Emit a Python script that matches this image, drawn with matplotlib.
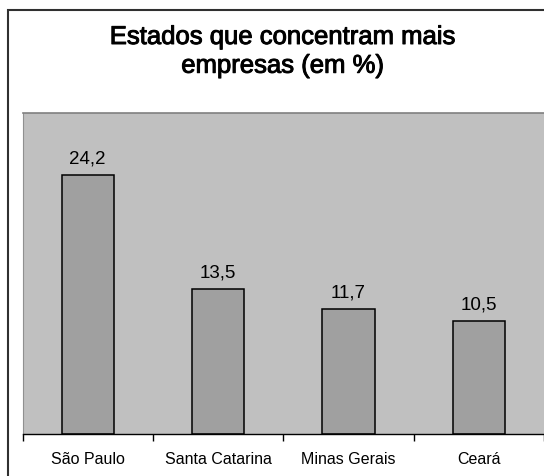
import numpy as np
import matplotlib
matplotlib.use("Agg")
import matplotlib.pyplot as plt
import matplotlib.patheffects as pe
from matplotlib.patches import Rectangle

estados = ["São Paulo", "Santa Catarina", "Minas Gerais", "Ceará"]
percentuais = [24.2, 13.5, 11.7, 10.5]
titulo = "Estados que concentram mais\nempresas (em %)"

plt.rcParams["font.family"] = ["Liberation Sans", "DejaVu Sans"]

W, H = 544, 477
fig = plt.figure(figsize=(W / 100, H / 100), dpi=100)

# moldura externa do grafico (corta na direita e embaixo)
fig.patches.append(Rectangle((8 / W, -0.1), 1.2, (H - 11) / H + 0.1,
                             transform=fig.transFigure, fill=False,
                             edgecolor="#303030", lw=1.5, clip_on=False))

ax = fig.add_axes([22.5 / W, (H - 434.5) / H, (W - 22.5) / W, (434.5 - 114) / H])
ax.set_facecolor("#C0C0C0")

x = np.arange(len(estados))
ax.bar(x, percentuais, width=0.4, color="#A0A0A0", edgecolor="black", linewidth=1.1)

for xi, v in zip(x, percentuais):
    ax.annotate(f"{v:.1f}".replace(".", ","), (xi, v), xytext=(0, 6),
                textcoords="offset points", ha="center", va="bottom", fontsize=13.5)

ax.set_xlim(-0.5, len(estados) - 0.5)
ax.set_ylim(0, 30)
ax.set_yticks([])

ax.set_xticks(np.arange(len(estados) + 1) - 0.5)
ax.set_xticklabels([])
ax.tick_params(axis="x", which="major", length=5, width=1, direction="out", color="black")
ax.set_xticks(x, minor=True)
ax.set_xticklabels(estados, minor=True, fontsize=11.5)
ax.tick_params(axis="x", which="minor", length=0, pad=12.5)

ax.spines["right"].set_visible(False)
ax.spines["top"].set_color("#808080")
ax.spines["top"].set_linewidth(1.2)
ax.spines["left"].set_color("#909090")
ax.spines["bottom"].set_color("black")
ax.spines["bottom"].set_linewidth(1)

t = fig.text(283 / W, 1 - 26 / H, titulo, ha="center", va="top", fontsize=18.5,
             linespacing=1.25)
t.set_path_effects([pe.withStroke(linewidth=0.7, foreground="black")])

fig.savefig("out.png", dpi=100)
